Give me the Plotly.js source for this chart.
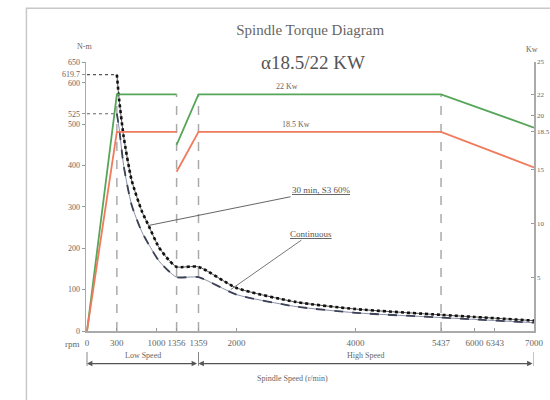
<!DOCTYPE html>
<html>
<head>
<meta charset="utf-8">
<script src="https://cdn.plot.ly/plotly-3.0.1.min.js"></script>
<style>html,body{margin:0;padding:0;background:#fff;}#chart{width:550px;height:400px;}</style>
</head>
<body>
<div id="chart"></div>
<script>
// ---------- data ----------
const SPEED_TICKS = [0, 300, 1000, 1356, 1359, 2000, 4000, 5437, 6000, 6343, 7000];
const TORQUE_TICKS = [0, 100, 200, 300, 400, 500, 525, 600, 619.7, 650];
const POWER_TICKS = [5, 10, 15, 18.5, 20, 22, 25];

// power curves (kW) – low gear segment, gap, high gear segment
const POWER_SPEED = [0, 300, 1356, null, 1356, 1359, 5437, 7000];
const POWER_30MIN = [0, 22, 22, null, 17.3, 22, 22, 18.9];
const POWER_CONT = [0, 18.5, 18.5, null, 14.8, 18.5, 18.5, 15.2];

// torque curves (N-m)
const TORQUE_SPEED = [300, 340, 420, 560, 740, 860, 1040, 1215, 1356, 1359, 2000, 3000, 4000, 5437, 6000, 7000];
const TORQUE_30MIN = [619.7, 560, 470, 365, 290, 255, 203, 172, 155, 155, 104, 70, 53, 39, 34, 25];
const TORQUE_CONT = [525, 490, 400, 305, 240, 210, 170, 145, 130, 130, 88, 59, 44, 32.5, 28, 20];

// constant torque region
const BASE_SPEED = [0, 300];
const MAX_TORQUE_30MIN = 619.7;
const MAX_TORQUE_CONT = 525;

// vertical guide speeds and zone boundaries
const GUIDE_SPEEDS = [300, 1356, 1359, 5437];
const GUIDE_POWER = 22;
const ZONE_MARKS = [0, 1359, 7000];
const ZONE_NAMES = ['Low Speed', 'High Speed'];
const ZONE_FROM = [0, 1359];
const ZONE_TO = [1359, 7000];

// ---------- drawn speed scale (piecewise, as in the diagram) ----------
const SCALE_RPM = [0, 300, 1356, 1359, 7000];
const SCALE_U = [0, 30, 90, 112, 449];
function sx(r) {
  if (r === null) return null;
  for (let i = 0; i < SCALE_RPM.length - 1; i++) {
    if (r <= SCALE_RPM[i + 1]) {
      const t = (r - SCALE_RPM[i]) / (SCALE_RPM[i + 1] - SCALE_RPM[i]);
      return SCALE_U[i] + t * (SCALE_U[i + 1] - SCALE_U[i]);
    }
  }
  return SCALE_U[SCALE_U.length - 1];
}
const mapX = a => a.map(sx);

const GREY = '#666';
const XFONT = {family: 'Liberation Sans Narrow', size: 9, color: GREY};
const YFONT = {family: 'Liberation Sans Narrow', size: 8, color: GREY};
const Y2FONT = {family: 'Liberation Sans Narrow', size: 7, color: GREY};

const traces = [
  {x: mapX(POWER_SPEED), y: POWER_30MIN, yaxis: 'y2', mode: 'lines', connectgaps: false,
   line: {color: '#56a65a', width: 1.8}, hoverinfo: 'skip'},
  {x: mapX(POWER_SPEED), y: POWER_CONT, yaxis: 'y2', mode: 'lines', connectgaps: false,
   line: {color: '#f07a5c', width: 1.8}, hoverinfo: 'skip'},
  {x: mapX(BASE_SPEED), y: [MAX_TORQUE_30MIN, MAX_TORQUE_30MIN], mode: 'lines',
   line: {color: '#555', width: 1.2, dash: 'dot'}, hoverinfo: 'skip'},
  {x: mapX(BASE_SPEED), y: [MAX_TORQUE_CONT, MAX_TORQUE_CONT], mode: 'lines',
   line: {color: '#666', width: 1.2, dash: 'dot'}, hoverinfo: 'skip'},
  {x: mapX(TORQUE_SPEED), y: TORQUE_30MIN, mode: 'lines',
   line: {color: '#555', width: 1, shape: 'spline', smoothing: 0.6}, hoverinfo: 'skip'},
  {x: mapX(TORQUE_SPEED), y: TORQUE_30MIN, mode: 'lines',
   line: {color: '#111', width: 2.6, dash: 'dot', shape: 'spline', smoothing: 0.6}, hoverinfo: 'skip'},
  {x: mapX(TORQUE_SPEED), y: TORQUE_CONT, mode: 'lines',
   line: {color: '#8a90a8', width: 1, shape: 'spline', smoothing: 0.6}, hoverinfo: 'skip'},
  {x: mapX(TORQUE_SPEED), y: TORQUE_CONT, mode: 'lines',
   line: {color: '#3c4256', width: 1.8, dash: 'dash', shape: 'spline', smoothing: 0.6}, hoverinfo: 'skip'}
];

const shapes = [];
// outer frame
shapes.push({type: 'rect', xref: 'paper', yref: 'paper', x0: -0.133, x1: 1.07, y0: 1.2, y1: -0.3,
  line: {color: '#c8c8c8', width: 1.5}, layer: 'below'});
// vertical dashed guides
GUIDE_SPEEDS.forEach(s => shapes.push({type: 'line', xref: 'x', yref: 'y2', x0: sx(s), x1: sx(s),
  y0: 0, y1: GUIDE_POWER, line: {color: '#aaa', width: 1.5, dash: 'dash'}, layer: 'below'}));
// zone marks under the axis
ZONE_MARKS.forEach(s => shapes.push({type: 'line', xref: 'x', yref: 'paper', x0: sx(s), x1: sx(s),
  y0: -0.078, y1: -0.13, line: {color: '#888', width: 1}}));

const annotations = [];
const note = (o) => annotations.push(Object.assign({showarrow: false, xanchor: 'center', yanchor: 'middle',
  font: {family: 'Liberation Serif', size: 8, color: GREY}}, o));

note({text: 'α18.5/22 KW', xref: 'paper', yref: 'paper', x: 0.507, y: 1.0,
  font: {family: 'Liberation Serif', size: 19, color: '#555'}});
note({text: 'N-m', xref: 'paper', yref: 'paper', x: -0.004, y: 1.056});
note({text: 'Kw', xref: 'paper', yref: 'paper', x: 0.996, y: 1.045});
note({text: 'rpm', xref: 'paper', yref: 'paper', x: -0.009, xanchor: 'right', y: -0.05,
  font: {family: 'Liberation Sans Narrow', size: 9, color: GREY}});
note({text: '22 Kw', xref: 'x', yref: 'y2', x: sx(2850), y: POWER_30MIN[5], yanchor: 'bottom', yshift: 1});
note({text: '18.5 Kw', xref: 'x', yref: 'y2', x: sx(3000), y: POWER_CONT[5], yanchor: 'bottom', yshift: 1});
note({text: 'Spindle Speed (r/min)', xref: 'paper', yref: 'paper', x: 0.461, y: -0.175});
ZONE_NAMES.forEach((n, i) => {
  note({text: n, xref: 'x', yref: 'paper', x: (sx(ZONE_FROM[i]) + sx(ZONE_TO[i])) / 2, y: -0.09});
  annotations.push({text: '', xref: 'x', yref: 'paper', x: sx(ZONE_FROM[i]), y: -0.121,
    axref: 'x', ax: sx(ZONE_TO[i]), ayref: 'pixel', ay: 0, showarrow: true,
    arrowside: 'end+start', arrowhead: 2, arrowsize: 0.9, arrowwidth: 1.2, arrowcolor: '#555'});
});
// leader labels
annotations.push({text: '<u>30 min, S3 60%</u>', xref: 'x', yref: 'y', x: sx(860), y: TORQUE_30MIN[5],
  ax: 173, ay: -35, showarrow: true, arrowhead: 0, arrowwidth: 1, arrowcolor: '#666',
  font: {family: 'Liberation Serif', size: 9, color: '#555'}});
annotations.push({text: '<u>Continuous</u>', xref: 'x', yref: 'y', x: sx(1900), y: 100,
  ax: 80, ay: -56, showarrow: true, arrowhead: 0, arrowwidth: 1, arrowcolor: '#777',
  font: {family: 'Liberation Serif', size: 9, color: '#555'}});

const layout = {
  width: 550, height: 400,
  margin: {l: 86, r: 16, t: 62, b: 69},
  paper_bgcolor: '#ffffff', plot_bgcolor: 'rgba(0,0,0,0)',
  showlegend: false,
  title: {text: 'Spindle Torque Diagram', x: 0.564, xanchor: 'center', y: 0.925, yanchor: 'middle',
    font: {family: 'Liberation Serif', size: 15, color: '#666'}},
  xaxis: {range: [-1, 449], tickvals: mapX(SPEED_TICKS), ticktext: SPEED_TICKS.map(String), tickangle: 0,
    showgrid: false, zeroline: false, showline: true, linecolor: '#aaa', linewidth: 1.5,
    ticks: 'inside', ticklen: 3, tickcolor: '#999', tickfont: XFONT, ticklabelstandoff: 3, fixedrange: true},
  yaxis: {range: [0, 650], tickvals: TORQUE_TICKS, ticktext: TORQUE_TICKS.map(String),
    showgrid: false, zeroline: false, showline: true, linecolor: '#aaa', linewidth: 1.5,
    ticks: 'outside', ticklen: 3, tickcolor: '#999', tickfont: YFONT, fixedrange: true},
  yaxis2: {range: [0, 25], overlaying: 'y', side: 'right', tickvals: POWER_TICKS, ticktext: POWER_TICKS.map(String),
    showgrid: false, zeroline: false, showline: true, linecolor: '#aaa', linewidth: 1.5,
    ticks: 'inside', ticklen: 3, tickcolor: '#999', tickfont: Y2FONT, fixedrange: true},
  shapes: shapes,
  annotations: annotations
};

Plotly.newPlot('chart', traces, layout, {displayModeBar: false, staticPlot: true});
</script>
</body>
</html>
